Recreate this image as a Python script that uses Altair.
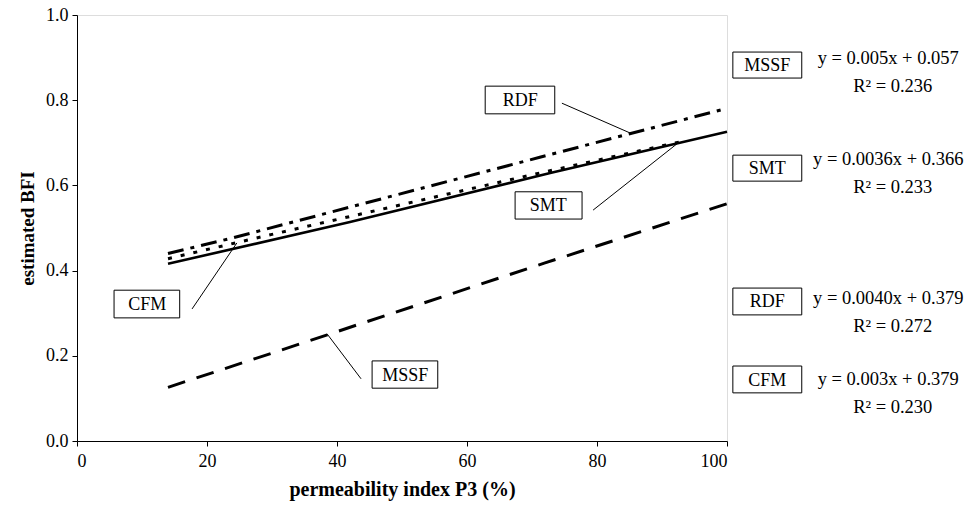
import altair as alt
import pandas as pd

# ---- series ----
smt_x = [14, 42, 72.8, 100]
smt_y = [0.416, 0.514, 0.629, 0.726]
cfm_x = [14, 30, 50, 70, 93]
cfm_y = [0.428, 0.485, 0.555, 0.625, 0.703]
rdf_x = [14, 24, 71.2, 100]
rdf_y = [0.440, 0.477, 0.666, 0.781]
mssf_x = [14, 38.5, 43, 72, 100]
mssf_y = [0.126, 0.249, 0.272, 0.418, 0.557]

x_ticks = [0, 20, 40, 60, 80, 100]
y_ticks = [0.0, 0.2, 0.4, 0.6, 0.8, 1.0]

# ---- callouts inside the plot (data units) ----
call_label = ["RDF", "SMT", "CFM", "MSSF"]
call_tx = [68.2, 72.5, 10.8, 50.5]
call_ty = [0.800, 0.553, 0.322, 0.156]
call_bx1 = [62.8, 67.4, 5.7, 45.4]
call_bx2 = [73.5, 77.7, 15.8, 55.5]
call_by1 = [0.768, 0.521, 0.289, 0.124]
call_by2 = [0.833, 0.585, 0.354, 0.188]
lead_x1 = [74.6, 79.4, 17.7, 43.7]
lead_y1 = [0.793, 0.542, 0.310, 0.146]
lead_x2 = [85.1, 92.5, 24.6, 38.5]
lead_y2 = [0.723, 0.700, 0.465, 0.251]

# ---- legend-like annotations at the right ----
leg_label = ["MSSF", "SMT", "RDF", "CFM"]
leg_eq = ["y = 0.005x + 0.057", "y = 0.0036x + 0.366", "y = 0.0040x + 0.379", "y = 0.003x + 0.379"]
leg_r2 = ["R\u00b2 = 0.236", "R\u00b2 = 0.233", "R\u00b2 = 0.272", "R\u00b2 = 0.230"]
leg_ty = [0.883, 0.641, 0.329, 0.143]
leg_by1 = [0.852, 0.610, 0.296, 0.113]
leg_by2 = [0.913, 0.671, 0.359, 0.176]
leg_eqy = [0.899, 0.662, 0.336, 0.146]
leg_r2y = [0.833, 0.596, 0.270, 0.080]
leg_tx = [106.2] * 4
leg_bx1 = [100.9] * 4
leg_bx2 = [111.5] * 4
leg_eqx = [124.8] * 4
leg_r2x = [125.5] * 4

FONT = "Liberation Serif, Times New Roman, serif"

xs = alt.Scale(domain=[0, 100], nice=False)
ys = alt.Scale(domain=[0, 1], nice=False)

xax = alt.Axis(values=x_ticks, title="permeability index P3 (%)", grid=False,
               labelFont=FONT, labelFontSize=18, titleFont=FONT, titleFontSize=20,
               titleFontWeight="bold", tickSize=5, labelPadding=6, titlePadding=9,
               domainColor="black", tickColor="black", labelColor="black", titleColor="black")
yax = alt.Axis(values=y_ticks, format=".1f", title="estimated BFI", grid=False,
               labelFont=FONT, labelFontSize=18, titleFont=FONT, titleFontSize=19,
               titleFontWeight="bold", tickSize=5, labelPadding=4, titlePadding=8,
               domainColor="black", tickColor="black", labelColor="black", titleColor="black")


def line(xv, yv, dash, width):
    df = pd.DataFrame({"x": xv, "y": yv})
    kw = dict(color="black", strokeWidth=width, strokeCap="butt")
    if dash:
        kw["strokeDash"] = dash
    return alt.Chart(df).mark_line(**kw).encode(
        x=alt.X("x:Q", scale=xs, axis=xax),
        y=alt.Y("y:Q", scale=ys, axis=yax),
    )


l_smt = line(smt_x, smt_y, None, 2.6)
l_cfm = line(cfm_x, cfm_y, [4, 9], 3)
l_rdf = line(rdf_x, rdf_y, [16, 7, 4, 7], 3)
l_mssf = line(mssf_x, mssf_y, [18, 12], 3)

call_df = pd.DataFrame({
    "label": call_label, "tx": call_tx, "ty": call_ty,
    "bx1": call_bx1, "bx2": call_bx2, "by1": call_by1, "by2": call_by2,
    "lx1": lead_x1, "ly1": lead_y1, "lx2": lead_x2, "ly2": lead_y2,
})
leads = alt.Chart(call_df).mark_rule(color="black", strokeWidth=1).encode(
    x=alt.X("lx1:Q", scale=xs), y=alt.Y("ly1:Q", scale=ys), x2="lx2:Q", y2="ly2:Q")
cboxes = alt.Chart(call_df).mark_rect(fill="white", stroke="black", strokeWidth=1).encode(
    x=alt.X("bx1:Q", scale=xs), x2="bx2:Q", y=alt.Y("by1:Q", scale=ys), y2="by2:Q")
ctext = alt.Chart(call_df).mark_text(font=FONT, fontSize=18, color="black",
                                     align="center", baseline="middle", dy=1).encode(
    x=alt.X("tx:Q", scale=xs), y=alt.Y("ty:Q", scale=ys), text="label:N")

leg_df = pd.DataFrame({
    "label": leg_label, "eq": leg_eq, "r2": leg_r2,
    "tx": leg_tx, "ty": leg_ty, "bx1": leg_bx1, "bx2": leg_bx2,
    "by1": leg_by1, "by2": leg_by2, "eqx": leg_eqx, "eqy": leg_eqy,
    "r2x": leg_r2x, "r2y": leg_r2y,
})
lboxes = alt.Chart(leg_df).mark_rect(fill="white", stroke="black", strokeWidth=1).encode(
    x=alt.X("bx1:Q", scale=xs), x2="bx2:Q", y=alt.Y("by1:Q", scale=ys), y2="by2:Q")
ltext = alt.Chart(leg_df).mark_text(font=FONT, fontSize=18, color="black",
                                    align="center", baseline="middle", dy=1).encode(
    x=alt.X("tx:Q", scale=xs), y=alt.Y("ty:Q", scale=ys), text="label:N")
leq = alt.Chart(leg_df).mark_text(font=FONT, fontSize=18.5, color="black",
                                  align="center", baseline="middle").encode(
    x=alt.X("eqx:Q", scale=xs), y=alt.Y("eqy:Q", scale=ys), text="eq:N")
lr2 = alt.Chart(leg_df).mark_text(font=FONT, fontSize=18.5, color="black",
                                  align="center", baseline="middle").encode(
    x=alt.X("r2x:Q", scale=xs), y=alt.Y("r2y:Q", scale=ys), text="r2:N")

chart = alt.layer(
    l_mssf, l_rdf, l_cfm, l_smt, leads, cboxes, ctext, lboxes, ltext, leq, lr2
).properties(
    width=650, height=426,
    padding={"left": 77, "top": 15, "right": 240, "bottom": 64},
    autosize=alt.AutoSizeParams(type="none"),
).configure_view(stroke=None).configure(background="white")

chart.save("out.html", embed_options={"renderer": "svg", "actions": False})
